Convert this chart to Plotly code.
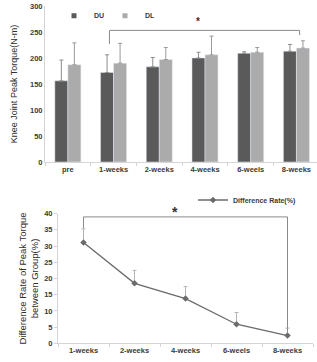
import plotly.graph_objects as go

W, H = 317, 362

# ---- data: top chart ----
cats_top = ["pre", "1-weeks", "2-weeks", "4-weeks", "6-weels", "8-weeks"]
du_vals = [156, 172, 183, 200, 209, 213]
du_err = [40, 34, 18, 11, 3, 13]
dl_vals = [187, 190, 197, 206, 211, 219]
dl_err = [42, 38, 23, 36, 9, 14]
top_ticks = [0, 50, 100, 150, 200, 250, 300]

# ---- data: bottom chart ----
cats_bot = ["1-weeks", "2-weeks", "4-weeks", "6-weels", "8-weeks"]
diff_vals = [31.1, 18.5, 13.8, 5.9, 2.4]
diff_err = [4.2, 4.0, 3.7, 3.6, 2.3]
bot_ticks = [0, 5, 10, 15, 20, 25, 30, 35, 40]

FONT = "Liberation Sans"
TXT = "#3a3a3a"
DU_C = "#5a5a5a"
DL_C = "#ababab"

def px_x(p):
    return p / W

def px_y(p):
    return 1 - p / H

fig = go.Figure()

fig.add_trace(go.Bar(
    x=cats_top, y=du_vals, name="DU", marker_color=DU_C, showlegend=False,
    error_y=dict(type="data", array=du_err, arrayminus=[0]*6, symmetric=False,
                 color="#8c8c8c", thickness=1, width=2),
    xaxis="x", yaxis="y"))
fig.add_trace(go.Bar(
    x=cats_top, y=dl_vals, name="DL", marker_color=DL_C, showlegend=False,
    error_y=dict(type="data", array=dl_err, arrayminus=[0]*6, symmetric=False,
                 color="#9a9a9a", thickness=1, width=2),
    xaxis="x", yaxis="y"))
# legend entries with small square swatches
for nm, c in (("DU", DU_C), ("DL", DL_C)):
    fig.add_trace(go.Scatter(x=[None], y=[None], mode="markers", name=nm,
                             marker=dict(symbol="square", size=5, color=c),
                             xaxis="x", yaxis="y", legend="legend"))

fig.add_trace(go.Scatter(
    x=cats_bot, y=diff_vals, name="Difference Rate(%)", mode="lines+markers",
    line=dict(color="#6b6b6b", width=1.3),
    marker=dict(symbol="diamond", size=5, color="#6b6b6b"),
    error_y=dict(type="data", array=diff_err, arrayminus=[0]*5, symmetric=False,
                 color="#b5b5b5", thickness=1, width=2),
    xaxis="x2", yaxis="y2", legend="legend2"))

tickfont = dict(family=FONT, size=7.5, color=TXT, weight="bold")
axis_common = dict(showgrid=False, zeroline=False, showline=True, linecolor="#d4d4d4",
                   linewidth=1, tickfont=tickfont)
title_font = dict(family=FONT, size=9, color="#2e2e2e")

fig.update_layout(
    width=W, height=H, margin=dict(l=0, r=0, t=0, b=0),
    paper_bgcolor="white", plot_bgcolor="white",
    font=dict(family=FONT, color=TXT),
    barmode="group", bargap=0.43, bargroupgap=0.0,
    xaxis=dict(domain=[px_x(45), 1.0], range=[-0.5, 5.45], type="category",
               ticks="outside", ticklen=3, tickcolor="#d4d4d4", tickson="boundaries",
               **axis_common),
    yaxis=dict(domain=[px_y(162), px_y(2)], range=[0, 300], tickvals=top_ticks,
               ticks="", anchor="x",
               title=dict(text="Knee Joint Peak Torque(N-m)", standoff=10, font=title_font),
               **axis_common),
    xaxis2=dict(domain=[px_x(58), px_x(313)], range=[-0.5, 4.5], type="category",
                anchor="y2", ticks="outside", ticklen=3, tickcolor="#d4d4d4",
                tickson="boundaries", **axis_common),
    yaxis2=dict(domain=[px_y(348), px_y(215)], range=[0, 40], tickvals=bot_ticks,
                anchor="x2", ticks="outside", ticklen=3, tickcolor="#d4d4d4",
                title=dict(text="Difference Rate of Peak Torque<br>between Group(%)",
                           standoff=3, font=dict(family=FONT, size=9.5, color="#2e2e2e")),
                **axis_common),
    legend=dict(orientation="h", x=px_x(54), y=px_y(12), xanchor="left", yanchor="middle",
                font=dict(family=FONT, size=7, color=TXT, weight="bold"),
                bgcolor="rgba(0,0,0,0)", itemwidth=30, entrywidth=6, tracegroupgap=0),
    legend2=dict(orientation="h", x=px_x(193), y=px_y(201), xanchor="left", yanchor="middle",
                 font=dict(family=FONT, size=7, color=TXT, weight="bold"),
                 bgcolor="rgba(0,0,0,0)", itemwidth=30),
)

# significance brackets
br = dict(color="#8a8a8a", width=1)
fig.add_shape(type="path", xref="x", yref="y",
              path="M 0.91,227 L 0.91,253 L 5.07,253 L 5.07,244", line=br)
fig.add_annotation(x=2.85, y=270, xref="x", yref="y", text="<b>*</b>", showarrow=False,
                   font=dict(family=FONT, size=10, color="#333"))

fig.add_shape(type="path", xref="x2", yref="y2",
              path="M 0,35.5 L 0,39 L 4,39 L 4,3.5", line=br)
fig.add_annotation(x=1.79, y=px_y(213), xref="x2", yref="paper", text="<b>*</b>",
                   showarrow=False, font=dict(family=FONT, size=14, color="#333"))

fig.write_html("out.html")
